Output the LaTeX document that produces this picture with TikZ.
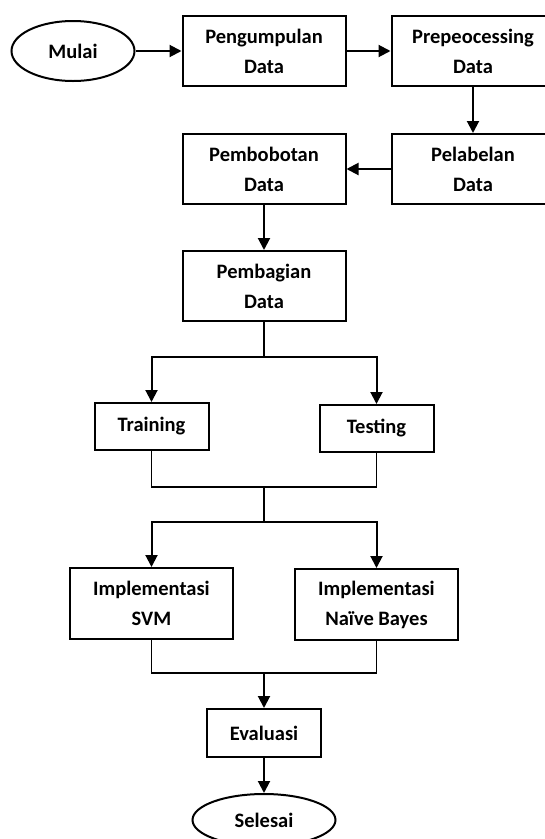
\documentclass[tikz,border=0pt]{standalone}
\usepackage{fontspec}
\setmainfont{Carlito}
\usepackage{tikz}
\usetikzlibrary{positioning, arrows.meta, shapes.geometric}
\tikzset{main node/.style={rectangle, draw, line width=2pt, minimum width=163pt, minimum height=70pt, inner sep=2pt, align=center, font=\fontsize{20.5}{30}\selectfont\bfseries},}
\tikzset{small node/.style={main node, minimum width=114pt, minimum height=47pt},}
\tikzset{end node/.style={main node, ellipse, minimum width=123pt, minimum height=60pt},}

\begin{document}
\begin{tikzpicture}[-{Triangle[length=12pt,width=12pt]}, line width=2pt]
			\useasboundingbox (0,0) rectangle (545pt,-839pt);
			% Nodes
			\node[end node] (mulai) at (73pt,-51pt) {Mulai};
			\node[main node] [right = 46pt of mulai] (kumpul) {Pengumpulan\\Data};
			\node[main node] [right = 44pt of kumpul] (prepro) {Prepeocessing\\Data};
			\node[main node] [below = 46pt of prepro] (label) {Pelabelan\\Data};
			\node[main node] [left = 44pt of label] (bobot) {Pembobotan\\Data};
			\node[main node] [below = 45pt of bobot] (bagi) {Pembagian\\Data};
			\coordinate [below = 35pt of bagi.south] (cabang1);
			\node[small node] [below = 80pt of bagi, xshift=-112.5pt] (train) {Training};
			\node[small node] [below = 82pt of bagi, xshift=112.5pt] (test) {Testing};
			\coordinate [below = 165pt of bagi.south] (gabung1);
			\coordinate [below = 35pt of gabung1] (cabang2);
			\node[main node] [below = 45pt of cabang2, xshift=-112.5pt, minimum height=71pt] (svm) {Implementasi\\SVM};
			\node[main node] [below = 46pt of cabang2, xshift=112.5pt, minimum height=71pt] (nb) {Implementasi\\Naïve Bayes};
			\coordinate [below = 151pt of cabang2] (gabung2);
			\node[small node] [below = 35pt of gabung2, minimum height=48pt] (evaluasi) {Evaluasi};
			\node[end node] [below = 35pt of evaluasi, minimum width=143pt, minimum height=52pt] (selesai) {Selesai};

			% Paths
			\path[draw]
			(mulai) edge (kumpul)
			(kumpul) edge (prepro)
			(prepro) edge (label)
			(label) edge (bobot)
			(bobot) edge (bagi);

			% Branches
			\draw (bagi.south) -- (cabang1) -| (train.north);
			\draw (bagi.south) -- (cabang1) -| (test.north);
			\draw[-, line width=1.5pt] (train.south) |- (gabung1) -| (test.south);
			\draw[-, line width=1.5pt] (gabung1) -- (cabang2);
			\draw (cabang2) -| (svm.north);
			\draw (cabang2) -| (nb.north);
			\draw[-, line width=1.5pt] (svm.south) |- (gabung2) -| (nb.south);
			\draw (gabung2) -- (evaluasi);
			\draw (evaluasi) -- (selesai);
		\end{tikzpicture}
\end{document}
